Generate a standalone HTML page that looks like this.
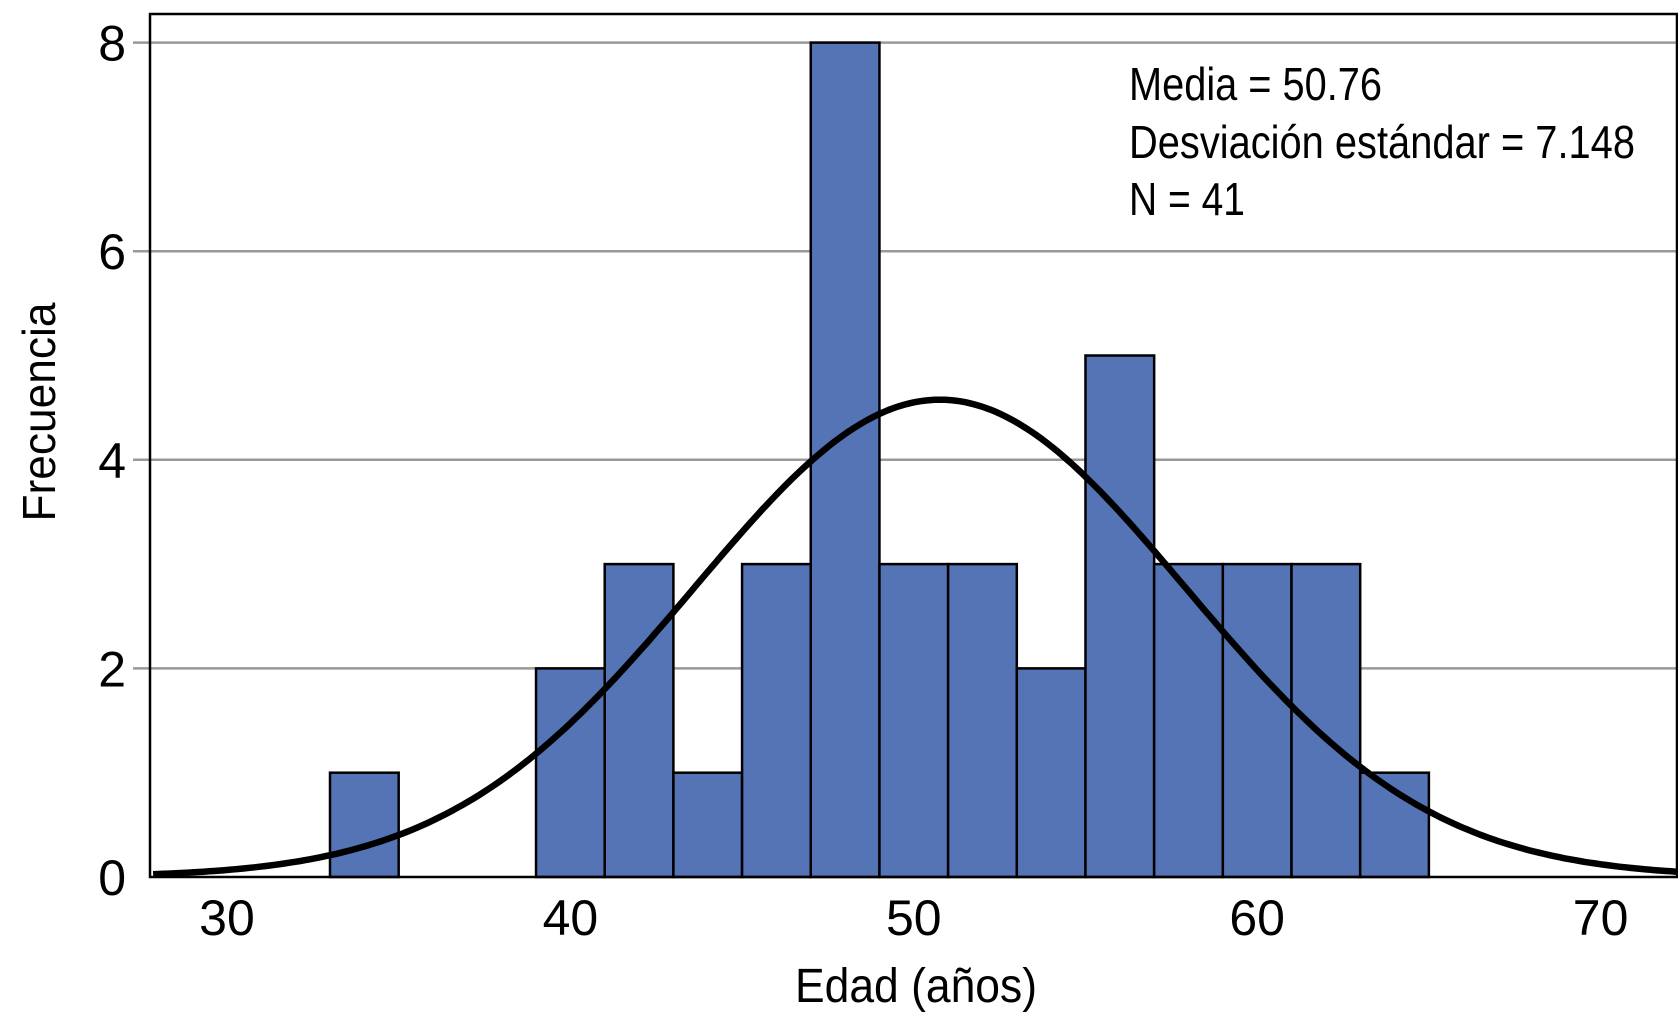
<!DOCTYPE html>
<html><head><meta charset="utf-8"><style>
html,body{margin:0;padding:0;background:#fff;}
svg{display:block;font-family:"Liberation Sans",sans-serif;}
</style></head><body>
<svg id="chart" width="1678" height="1024" viewBox="0 0 1678 1024" xmlns="http://www.w3.org/2000/svg">
<defs><clipPath id="plotclip"><rect x="150" y="14" width="1527" height="866"/></clipPath></defs>
<g id="grid"></g>
<g id="bars"></g>
<path id="curve" clip-path="url(#plotclip)" fill="none" stroke="#000" stroke-width="6.5"/>
<rect x="150" y="14" width="1527" height="863" fill="none" stroke="#000" stroke-width="2.5"/>
<g id="yticks"></g>
<g id="xticks"></g>
<text x="916" y="1002" font-size="48" text-anchor="middle" textLength="242" lengthAdjust="spacingAndGlyphs">Edad (años)</text>
<text transform="translate(55,412) rotate(-90)" font-size="46" text-anchor="middle" textLength="219" lengthAdjust="spacingAndGlyphs">Frecuencia</text>
<g font-size="46">
<text x="1129" y="100" textLength="253" lengthAdjust="spacingAndGlyphs">Media = 50.76</text>
<text x="1129" y="158" textLength="506" lengthAdjust="spacingAndGlyphs">Desviación estándar = 7.148</text>
<text x="1129" y="215" textLength="116" lengthAdjust="spacingAndGlyphs">N = 41</text>
</g>
</svg>
<script>
const binStarts=[33,35,37,39,41,43,45,47,49,51,53,55,57,59,61,63];
const counts=[1,0,0,2,3,1,3,8,3,3,2,5,3,3,3,1];
const binWidth=2;
const xTicks=[30,40,50,60,70];
const yTicks=[0,2,4,6,8];
const mean=50.76, sd=7.148, n=41;
const xMin=27.85, xMax=72.2;

const NS="http://www.w3.org/2000/svg";
const X=v=>330+(v-33)*34.34;
const Y=v=>877-v*104.3;
function mk(tag,attrs,parent){const e=document.createElementNS(NS,tag);for(const k in attrs)e.setAttribute(k,attrs[k]);parent.appendChild(e);return e;}

const grid=document.getElementById('grid'), yt=document.getElementById('yticks'), xt=document.getElementById('xticks');
yTicks.forEach(t=>{
  if(t>0){const g=mk('line',{x1:133,x2:1677,y1:Y(t),y2:Y(t),stroke:'#999','stroke-width':2.5},grid);
  
  }
  const l=mk('text',{x:126,y:Y(t)+18,'font-size':50,'text-anchor':'end'},yt);l.textContent=t;
  
  
});
xTicks.forEach(t=>{
  const l=mk('text',{x:X(t),y:935,'font-size':50,'text-anchor':'middle'},xt);l.textContent=t;
  
  
});
const bars=document.getElementById('bars');
binStarts.forEach((b,i)=>{
  if(counts[i]<=0)return;
  const r=mk('rect',{x:X(b),y:Y(counts[i]),width:X(b+binWidth)-X(b),height:Y(0)-Y(counts[i]),fill:'#5574b5',stroke:'#000','stroke-width':2.5},bars);
  
  
});
let d='';
for(let i=0;i<=300;i++){
  const v=xMin+(xMax-xMin)*i/300;
  const f=n*binWidth*Math.exp(-0.5*((v-mean)/sd)**2)/(sd*Math.sqrt(2*Math.PI));
  d+=(i?'L':'M')+X(v).toFixed(1)+','+Y(f).toFixed(1);
}
document.getElementById('curve').setAttribute('d',d);
</script>
</body></html>
